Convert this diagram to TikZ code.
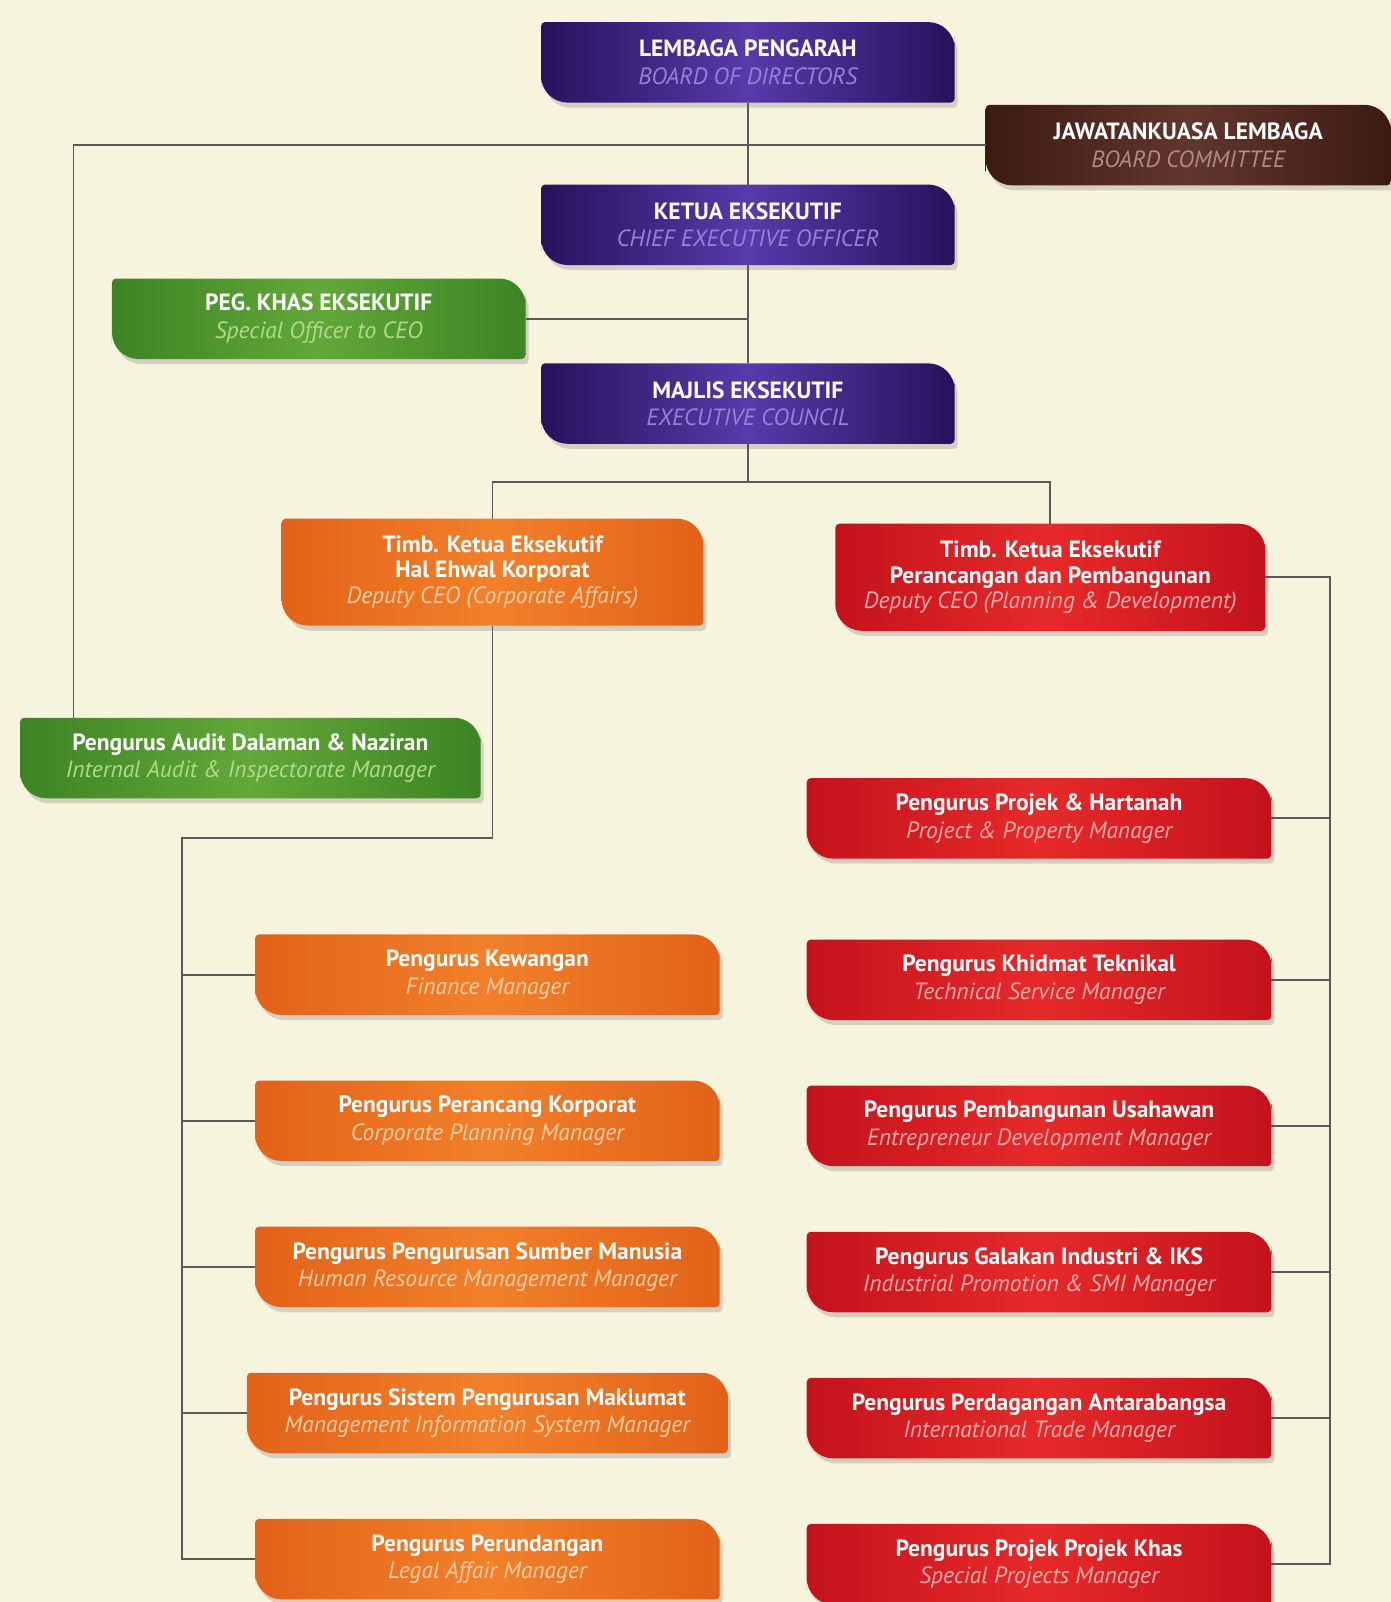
\documentclass[tikz,border=0pt]{standalone}
\usepackage{fontspec}
\setmainfont{PT Sans}
\usetikzlibrary{positioning, shadows}
\pgfdeclarelayer{background}
\pgfsetlayers{background,main}

\definecolor{paper}{RGB}{247,244,222}
\definecolor{purpleA}{RGB}{38,18,92}
\definecolor{purpleB}{RGB}{88,58,170}
\definecolor{purpleT}{RGB}{150,130,215}
\definecolor{brownA}{RGB}{60,26,20}
\definecolor{brownB}{RGB}{98,54,44}
\definecolor{brownT}{RGB}{172,142,132}
\definecolor{greenA}{RGB}{60,132,36}
\definecolor{greenB}{RGB}{98,168,56}
\definecolor{greenT}{RGB}{178,218,142}
\definecolor{orangeA}{RGB}{226,98,24}
\definecolor{orangeB}{RGB}{242,128,42}
\definecolor{orangeT}{RGB}{252,206,166}
\definecolor{redA}{RGB}{196,18,28}
\definecolor{redB}{RGB}{230,42,42}
\definecolor{redT}{RGB}{248,172,172}

\newcommand{\en}[1]{{\mdseries\itshape\color{subtext}#1}}

\newcommand{\leaf}[2]{%
  \begin{pgfonlayer}{background}
    \shade[drop shadow={opacity=.3, shadow xshift=1.5pt, shadow yshift=-2.5pt},
           left color=#2A, right color=#2A, middle color=#2B]
      (#1.west) [rounded corners=2pt] |- (#1.north)
      [rounded corners=13pt] -| (#1.east)
      [rounded corners=2pt] |- (#1.south)
      [rounded corners=13pt] -| (#1.west) -- cycle;
  \end{pgfonlayer}}

\tikzset{tone/.style={execute at begin node={\colorlet{subtext}{#1T}}}}

\tikzstyle{unit} = [
    align=center,
    text=white,
    inner sep=2pt,
    font=\fontsize{11.5}{13.5}\selectfont\bfseries
]
\tikzstyle{topbox} = [
    unit,
    minimum width=202pt,
    minimum height=39pt
]
\tikzstyle{deputy} = [
    unit,
    minimum width=206pt,
    minimum height=52pt,
    font=\fontsize{11.5}{12.5}\selectfont\bfseries
]
\tikzstyle{mgrbox} = [
    unit,
    minimum width=227pt,
    minimum height=39pt
]
\tikzstyle{link} = [line width=0.9pt, draw=black!65]

\begin{document}
\begin{tikzpicture}[x=0.5pt, y=-0.5pt, node distance=71.5pt]

\begin{pgfonlayer}{background}
\fill[paper] (0,0) rectangle (1361,1568);
\end{pgfonlayer}
\useasboundingbox (0,0) rectangle (1361,1568);

\node (bod) [topbox, tone=purple] at (732,61)
{LEMBAGA PENGARAH\\\en{BOARD OF DIRECTORS}};

\node (committee) [topbox, tone=brown, minimum width=198pt] at (1163,142)
{JAWATANKUASA LEMBAGA\\\en{BOARD COMMITTEE}};

\node (ceo) [topbox, tone=purple] at (732,220)
{KETUA EKSEKUTIF\\\en{CHIEF EXECUTIVE OFFICER}};

\node (special) [topbox, tone=green] at (312,312)
{PEG. KHAS EKSEKUTIF\\\en{Special Officer to CEO}};

\node (council) [topbox, tone=purple] at (732,395)
{MAJLIS EKSEKUTIF\\\en{EXECUTIVE COUNCIL}};

\node (dca) [deputy, tone=orange] at (482,560)
{Timb. Ketua Eksekutif\\Hal Ehwal Korporat\\\en{Deputy CEO (Corporate Affairs)}};

\node (dpd) [deputy, tone=red, minimum width=210pt] at (1028,565)
{Timb. Ketua Eksekutif\\Perancangan dan Pembangunan\\\en{Deputy CEO (Planning \& Development)}};

\node (audit) [mgrbox, tone=green, minimum width=225pt] at (245,742)
{Pengurus Audit Dalaman \& Naziran\\\en{Internal Audit \& Inspectorate Manager}};

\node (finance) [mgrbox, tone=orange] at (477,954)
{Pengurus Kewangan\\\en{Finance Manager}};

\node (corp) [mgrbox, tone=orange, below of=finance]
{Pengurus Perancang Korporat\\\en{Corporate Planning Manager}};

\node (hr) [mgrbox, tone=orange, below of=corp]
{Pengurus Pengurusan Sumber Manusia\\\en{Human Resource Management Manager}};

\node (mis) [mgrbox, tone=orange, below of=hr, minimum width=235pt]
{Pengurus Sistem Pengurusan Maklumat\\\en{Management Information System Manager}};

\node (legal) [mgrbox, tone=orange, below of=mis]
{Pengurus Perundangan\\\en{Legal Affair Manager}};

\node (project) [mgrbox, tone=red] at (1017,801)
{Pengurus Projek \& Hartanah\\\en{Project \& Property Manager}};

\node (technical) [mgrbox, tone=red] at (1017,959)
{Pengurus Khidmat Teknikal\\\en{Technical Service Manager}};

\node (entre) [mgrbox, tone=red, below of=technical]
{Pengurus Pembangunan Usahawan\\\en{Entrepreneur Development Manager}};

\node (industry) [mgrbox, tone=red, below of=entre]
{Pengurus Galakan Industri \& IKS\\\en{Industrial Promotion \& SMI Manager}};

\node (trade) [mgrbox, tone=red, below of=industry]
{Pengurus Perdagangan Antarabangsa\\\en{International Trade Manager}};

\node (khas) [mgrbox, tone=red, below of=trade]
{Pengurus Projek Projek Khas\\\en{Special Projects Manager}};

\foreach \n/\c in {bod/purple, ceo/purple, council/purple, committee/brown,
    special/green, audit/green, dca/orange, finance/orange, corp/orange,
    hr/orange, mis/orange, legal/orange, dpd/red, project/red,
    technical/red, entre/red, industry/red, trade/red, khas/red}
    \leaf{\n}{\c};

\coordinate (tl) at (72,142);
\coordinate (split) at (732,472);
\coordinate (lbus) at (178,820);
\coordinate (rbus) at (1302,553);

\draw [link] (bod) -- (ceo);
\draw [link] (ceo) -- (council);
\draw [link] (special.east) -- (special.east -| ceo.south);
\draw [link] (committee.west) -- (committee.west -| tl) -- (tl |- audit.north);
\draw [link] (council) -- (split);
\draw [link] (split) -| (dca.north);
\draw [link] (split) -| (dpd.north);
\draw [link] (dca.south) |- (lbus) |- (legal.west);
\foreach \n in {finance, corp, hr, mis}
    \draw [link] (lbus |- \n.west) -- (\n.west);
\draw [link] (dpd.east) -- (dpd.east -| rbus) |- (khas.east);
\foreach \n in {project, technical, entre, industry, trade}
    \draw [link] (rbus |- \n.east) -- (\n.east);

\end{tikzpicture}
\end{document}
